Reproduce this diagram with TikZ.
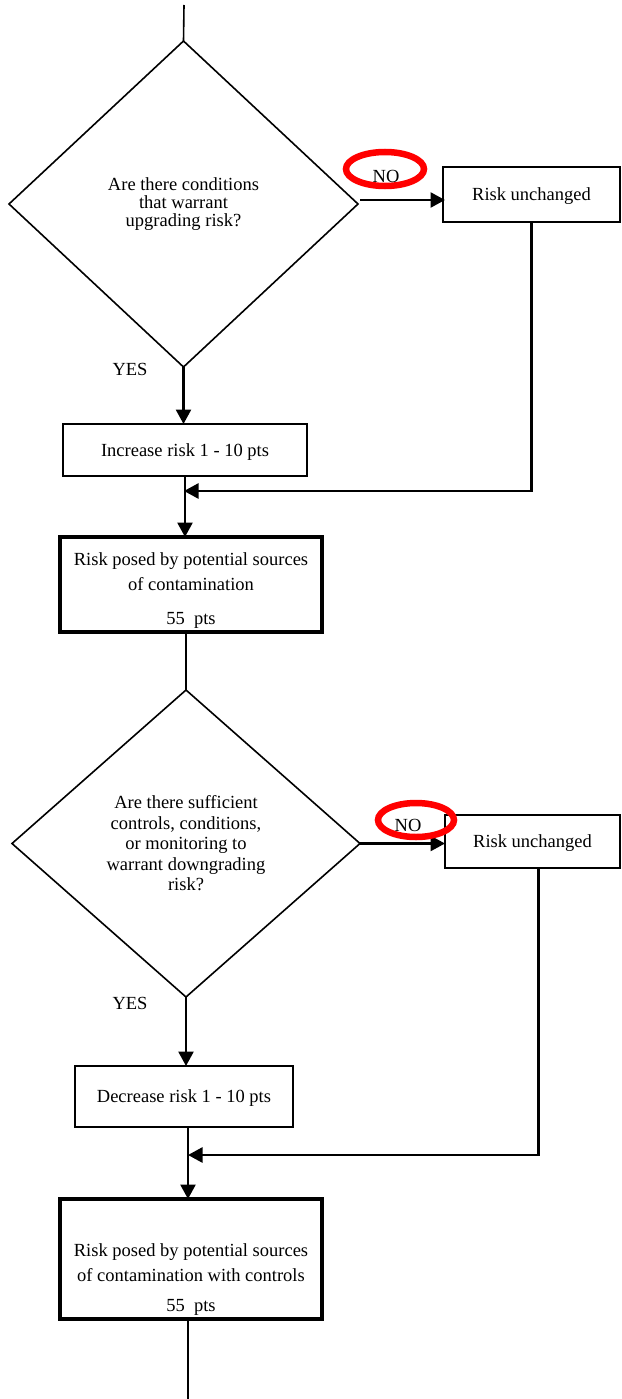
\documentclass[tikz,border=0pt]{standalone}
\usepackage{fontspec}
\setmainfont{Liberation Serif}
\usetikzlibrary{shapes.geometric,arrows.meta}
\begin{document}
\begin{tikzpicture}[x=1pt,y=-1pt,
  font=\fontsize{18.5}{20.5}\selectfont,
  dia/.style={draw,shape=diamond,line width=1.6pt,inner sep=0pt,outer sep=0pt,align=center},
  box/.style={draw,line width=1.9pt,inner sep=0pt,outer sep=0pt,text depth=0pt},
  thickbox/.style={draw,line width=3.8pt,inner sep=0pt,outer sep=0pt},
  lbl/.style={inner sep=0pt,align=center},
  ln/.style={line width=1.6pt},
  arr/.style={line width=2.6pt,-{Triangle[length=14.5pt,width=15pt]}},
  noring/.style={draw=red,line width=6.5pt,shape=ellipse,inner sep=0pt}]
\useasboundingbox (0,0) rectangle (621,1399);

% upper part
\node[dia, minimum width=349pt, minimum height=326pt, font=\fontsize{18.5}{18}\selectfont] (d1) at (183.5,204) {Are there conditions\\that warrant\\upgrading risk?};
\node[box, minimum width=177pt, minimum height=55pt] (r1) at (531.5,194.5) {Risk unchanged};
\node[box, minimum width=244pt, minimum height=52pt] (inc) at (185,450) {Increase risk 1 - 10 pts};
\node[thickbox, minimum width=262pt, minimum height=95pt] (b2) at (191,584.5) {};
\node[lbl, font=\fontsize{18.5}{25}\selectfont] (b2t) at (191,591) {Risk posed by potential sources\\of contamination\\[9pt]55~~pts};
\node[lbl] (y1) at (130,369) {YES};

% lower part
\node[dia, minimum width=348pt, minimum height=307pt] (d2) at (186,843.5) {Are there sufficient\\controls, conditions,\\or monitoring to\\warrant downgrading\\risk?};
\node[box, minimum width=175pt, minimum height=53pt] (r2) at (532.5,841.5) {Risk unchanged};
\node[box, minimum width=218pt, minimum height=61pt] (dec) at (184,1096.5) {Decrease risk 1 - 10 pts};
\node[thickbox, minimum width=262pt, minimum height=120pt] (b3) at (191,1259) {};
\node[lbl, font=\fontsize{18.5}{25}\selectfont] (b3t) at (191,1280) {Risk posed by potential sources\\of contamination with controls\\[5pt]55~~pts};
\node[lbl] (y2) at (130,1003) {YES};

% coordinates
\coordinate (top) at (184,5);
\coordinate (m1) at (184,491);
\coordinate (m2) at (188,1155);
\coordinate (bot) at (188,1399);

% connectors
\draw[ln] (top) -- (d1.north);
\draw[arr] (d1.south) -- (d1.south |- inc.north);
\draw[arr] ([shift={(2,-4)}]d1.east) -- ([shift={(2,-4)}]d1.east -| r1.west);
\draw[arr] (r1.south) |- (m1);
\draw[arr] (inc.south) -- (inc.south |- b2.north);
\draw[ln] (d2.north |- b2.south) -- (d2.north);
\draw[arr] (d2.south) -- (d2.south |- dec.north);
\draw[arr] (d2.east) -- (d2.east -| r2.west);
\draw[arr] ([xshift=6pt]r2.south) |- (m2);
\draw[arr] (m2 |- dec.south) -- (m2 |- b3.north);
\draw[ln] (m2 |- b3.south) -- (bot);

% NO rings
\node[noring, minimum width=78pt, minimum height=34pt] (e1) at (385,169) {};
\node[lbl] (no1) at (386,176) {NO};
\node[noring, minimum width=76pt, minimum height=34pt] (e2) at (416,820) {};
\node[lbl] (no2) at (408,825) {NO};
\end{tikzpicture}
\end{document}
